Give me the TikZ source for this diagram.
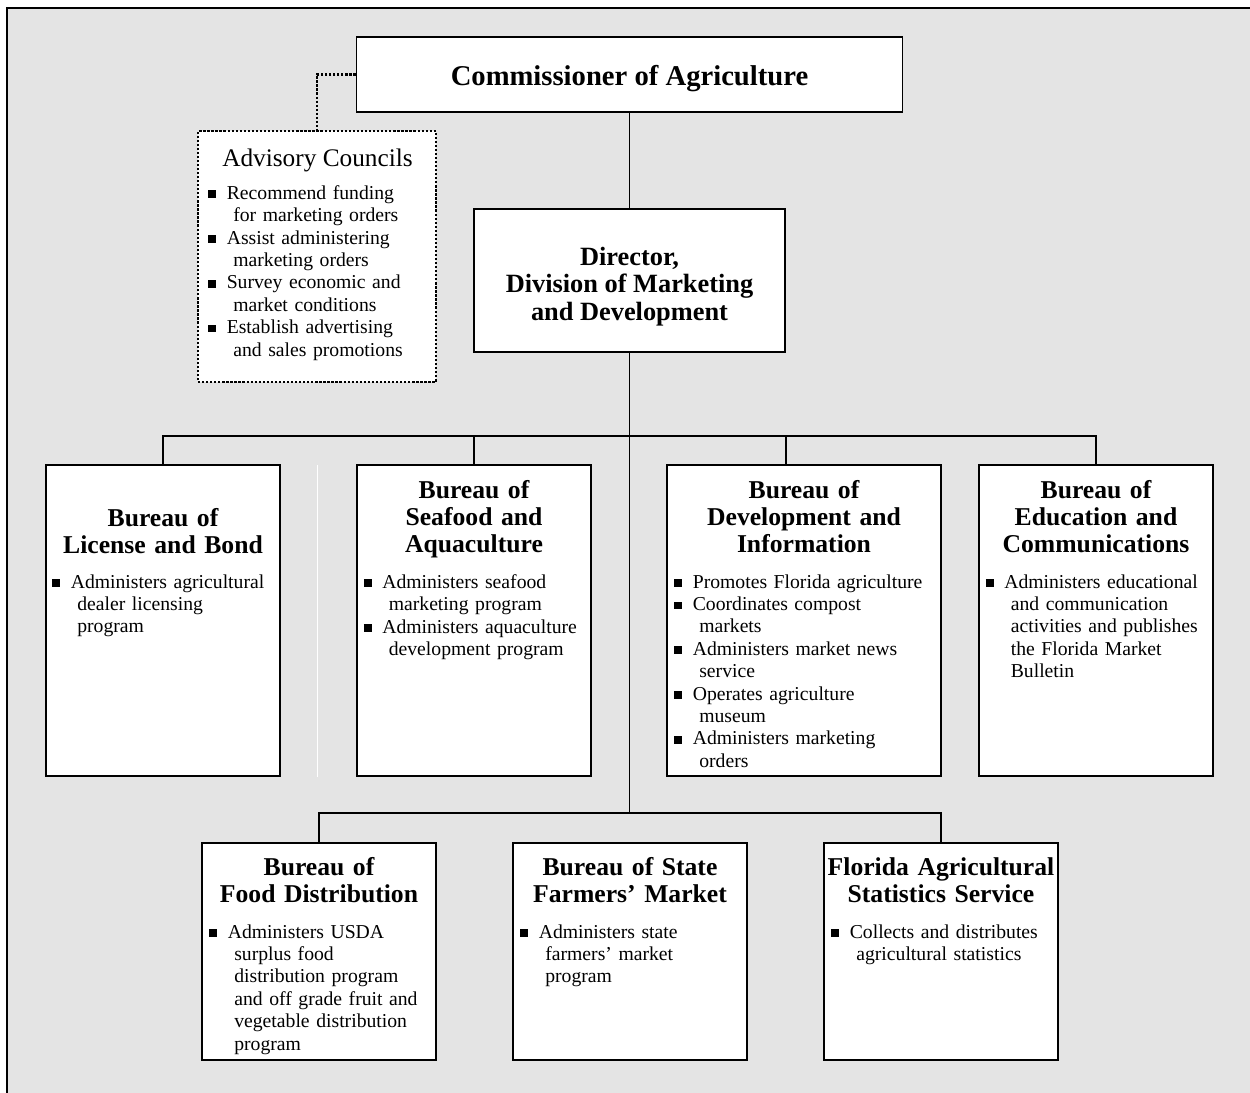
\documentclass[tikz,border=0pt]{standalone}
\usepackage{fontspec}
\setmainfont{Liberation Serif}

\definecolor{panel}{HTML}{E4E4E4}

% square bullet and one hanging item
\newcommand{\sq}{\rule[0.7pt]{4.6pt}{4.3pt}}
\newcommand{\itm}[1]{\hangindent=14.2pt\hangafter=1\noindent\makebox[10.5pt][l]{\sq}{\let\\\newline#1}\par}

\tikzset{
  box/.style={draw, fill=white, line width=1pt, inner sep=0pt},
  head/.style={font=\fontsize{14.6}{15.4}\selectfont\bfseries, text width=60mm, align=center, anchor=base, inner sep=0pt},
  list/.style={font=\fontsize{11.2}{12.75}\selectfont, text width=60mm, anchor=north west, inner sep=0pt},
  link/.style={line width=1pt},
  dots/.style={line width=1.3pt, densely dotted},
}

\begin{document}
\begin{tikzpicture}[x=0.2mm, y=-0.2mm]
  \useasboundingbox (0,0) rectangle (1250,1093);

  % Panel
  \fill[panel] (8,8) rectangle (1250,1093);
  \draw[line width=1.1pt] (7,1093) -- (7,8) -- (1250,8);
  \draw[white, line width=0.4pt] (317,465) -- (317,777);

  % Top of the chart
  \node[box, minimum width=109.2mm, minimum height=15mm] (comm) at (629.5,74.5) {};
  \node[font=\fontsize{16.3}{17}\selectfont\bfseries, inner sep=0pt] (commT) at (629.5,79) {Commissioner of Agriculture};
  \node[box, dots, minimum width=47.6mm, minimum height=50.2mm] (adv) at (317,256.5) {};
  \node[box, minimum width=62.2mm, minimum height=28.6mm] (dir) at (629.5,280.5) {};
  \node[align=center, inner sep=0pt, font=\fontsize{15}{15.6}\selectfont\bfseries] (dirT) at (629.5,286.5)
    {Director,\\Division of Marketing\\and Development};

  % Bureaus
  \foreach \n/\x/\w in {lic/163/234, sea/474/234, dev/804/274, edu/1096/234}
    \node[box, minimum width=\w*0.2mm, minimum height=62.2mm] (\n) at (\x,620.5) {};
  \foreach \n/\x in {food/319, mkt/630, nass/941}
    \node[box, minimum width=46.8mm, minimum height=43.4mm] (\n) at (\x,951.5) {};

  % Connectors
  \coordinate (bus1) at (629.5,436);
  \coordinate (bus2) at (629.5,813);
  \coordinate (devin) at (786,436);
  \draw[link] (comm.south) -- (dir.north);
  \draw[link] (dir.south) -- (bus2);
  \draw[link] (lic.north) |- (bus1) -| (edu.north);
  \draw[link] (sea.north) -- (sea.north |- bus1);
  \draw[link] (devin) -- (devin |- dev.north);
  \draw[link] (food.north) |- (bus2) -| (nass.north);
  \draw[dots] (comm.west) -| (adv.north);

  % Advisory councils
  \node[font=\fontsize{14.4}{16}\selectfont, anchor=base, inner sep=0pt] (advT) at (317.5,167) {Advisory Councils};
  \node[list] (advL) at (208,185) {%
    \itm{Recommend funding\\for marketing orders}
    \itm{Assist administering\\marketing orders}
    \itm{Survey economic and\\market conditions}
    \itm{Establish advertising\\and sales promotions}};

  % Headings
  \node[head] (licH) at (163,526) {Bureau of\\License and Bond};
  \node[head] (seaH) at (474,498.5) {Bureau of\\Seafood and\\Aquaculture};
  \node[head] (devH) at (804,498.5) {Bureau of\\Development and\\Information};
  \node[head] (eduH) at (1096,498.5) {Bureau of\\Education and\\Communications};
  \node[head] (foodH) at (319,875) {Bureau of\\Food Distribution};
  \node[head] (mktH) at (630,875) {Bureau of State\\Farmers’ Market};
  \node[head] (nassH) at (941,875) {Florida Agricultural\\Statistics Service};

  % Duties
  \node[list] (licL) at (52,574) {\itm{Administers agricultural\\dealer licensing\\program}};
  \node[list] (seaL) at (363.5,574) {%
    \itm{Administers seafood\\marketing program}
    \itm{Administers aquaculture\\development program}};
  \node[list] (devL) at (674,574) {%
    \itm{Promotes Florida agriculture}
    \itm{Coordinates compost\\markets}
    \itm{Administers market news\\service}
    \itm{Operates agriculture\\museum}
    \itm{Administers marketing\\orders}};
  \node[list] (eduL) at (985.5,574) {\itm{Administers educational\\and communication\\activities and publishes\\the Florida Market\\Bulletin}};
  \node[list] (foodL) at (209,924) {\itm{Administers USDA\\surplus food\\distribution program\\and off grade fruit and\\vegetable distribution\\program}};
  \node[list] (mktL) at (520,924) {\itm{Administers state\\farmers’ market\\program}};
  \node[list] (nassL) at (831,924) {\itm{Collects and distributes\\agricultural statistics}};
\end{tikzpicture}
\end{document}
